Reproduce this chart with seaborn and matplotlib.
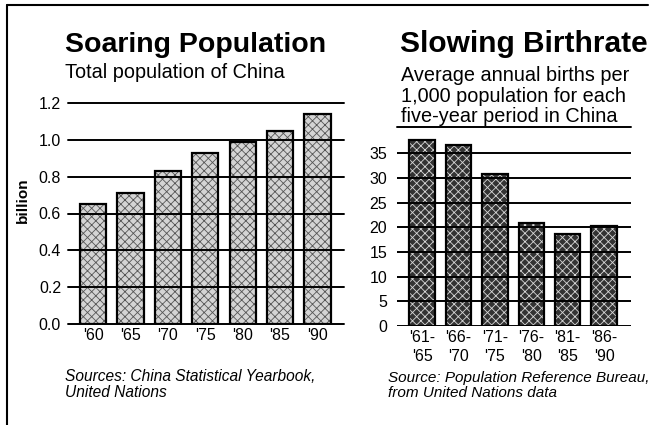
import pandas as pd
import seaborn as sns
from matplotlib import pyplot as plt
from matplotlib.lines import Line2D

# Data
pop_years = ["'60", "'65", "'70", "'75", "'80", "'85", "'90"]
pop_billion = [0.65, 0.71, 0.83, 0.93, 0.99, 1.05, 1.14]
pop_ticks = [0.0, 0.2, 0.4, 0.6, 0.8, 1.0, 1.2]

birth_periods = ["'61-\n'65", "'66-\n'70", "'71-\n'75", "'76-\n'80", "'81-\n'85", "'86-\n'90"]
birth_rates = [37.7, 36.7, 30.8, 20.9, 18.7, 20.3]
birth_ticks = [0, 5, 10, 15, 20, 25, 30, 35]

sns.set_style("white")
plt.rcParams["font.family"] = ["Liberation Sans", "DejaVu Sans"]
plt.rcParams["hatch.linewidth"] = 0.6
for key in ["text.color", "axes.labelcolor", "xtick.color", "ytick.color"]:
    plt.rcParams[key] = "black"

W, H = 654, 425
fig = plt.figure(figsize=(W / 100, H / 100), dpi=100)


def px_axes(x0, x1, ytop, ybot):
    return fig.add_axes([x0 / W, 1 - ybot / H, (x1 - x0) / W, (ybot - ytop) / H])


def draw_bars(ax, df, x, y, face, dots):
    sns.barplot(data=df, x=x, y=y, ax=ax, color=face, width=0.7,
                saturation=1, edgecolor="none", linewidth=0)
    sns.barplot(data=df, x=x, y=y, ax=ax, facecolor="none", width=0.7,
                edgecolor=dots, linewidth=0, hatch="xxxx")
    sns.barplot(data=df, x=x, y=y, ax=ax, facecolor="none", width=0.7,
                edgecolor="black", linewidth=1.6)


# Left: population
pop_df = pd.DataFrame({"year": pop_years, "pop": pop_billion})
ax1 = px_axes(68, 344, 103, 324)
draw_bars(ax1, pop_df, "year", "pop", "#d4d4d4", "#555555")
ax1.set_ylim(0, 1.2)
ax1.set_xlim(-0.67, 6.71)
ax1.set_yticks(pop_ticks)
ax1.set_yticklabels([f"{t:.1f}" for t in pop_ticks])
for t in pop_ticks:
    ax1.axhline(t, color="black", lw=1.4, zorder=5, clip_on=False)
ax1.set_xlabel("")
ax1.set_ylabel("billion", fontsize=11, fontweight="bold")
ax1.yaxis.set_label_coords((30 - 68) / 276, (324 - 200) / 221)
ax1.tick_params(axis="y", length=0, pad=5, labelsize=11.5)
ax1.tick_params(axis="x", length=0, pad=3, labelsize=11.5)
sns.despine(ax=ax1, left=True, bottom=True)

# Right: birthrate
birth_df = pd.DataFrame({"period": birth_periods, "rate": birth_rates})
ax2 = px_axes(397, 631, 326 - 40 * 4.934, 326)
draw_bars(ax2, birth_df, "period", "rate", "#333333", "#d8d8d8")
ax2.set_ylim(0, 40)
ax2.set_xlim(-0.69, 5.74)
ax2.set_yticks(birth_ticks)
for t in birth_ticks:
    ax2.axhline(t, color="black", lw=1.4, zorder=5)
ax2.set_xlabel("")
ax2.set_ylabel("")
ax2.tick_params(axis="y", length=0, pad=7, labelsize=11.5)
ax2.tick_params(axis="x", length=0, pad=3, labelsize=11.5)
for lab in ax2.get_xticklabels():
    lab.set_linespacing(1.3)
sns.despine(ax=ax2, left=True, bottom=True)

# Titles and notes
fig.text(65 / W, 1 - 52 / H, "Soaring Population", fontsize=20.5, fontweight="bold")
fig.text(65 / W, 1 - 78 / H, "Total population of China", fontsize=14.3)
fig.text(400 / W, 1 - 52 / H, "Slowing Birthrate", fontsize=21.5, fontweight="bold")
fig.text(401 / W, 1 - 122 / H,
         "Average annual births per\n1,000 population for each\nfive-year period in China",
         fontsize=14.3, linespacing=1.1)
fig.add_artist(Line2D([397 / W, 631 / W], [1 - 127 / H, 1 - 127 / H], color="black", lw=1.4))

fig.text(65 / W, 1 - 397 / H, "Sources: China Statistical Yearbook,\nUnited Nations",
         fontsize=11.2, style="italic", linespacing=1.1)
fig.text(388 / W, 1 - 397 / H, "Source: Population Reference Bureau,\nfrom United Nations data",
         fontsize=11, style="italic", linespacing=1.1)

# Frame
fig.add_artist(Line2D([7 / W, 648 / W], [1 - 5 / H, 1 - 5 / H], color="black", lw=1.5))
fig.add_artist(Line2D([7 / W, 7 / W], [1 - 5 / H, 0], color="black", lw=1.5))

plt.savefig("out.png", dpi=100)
